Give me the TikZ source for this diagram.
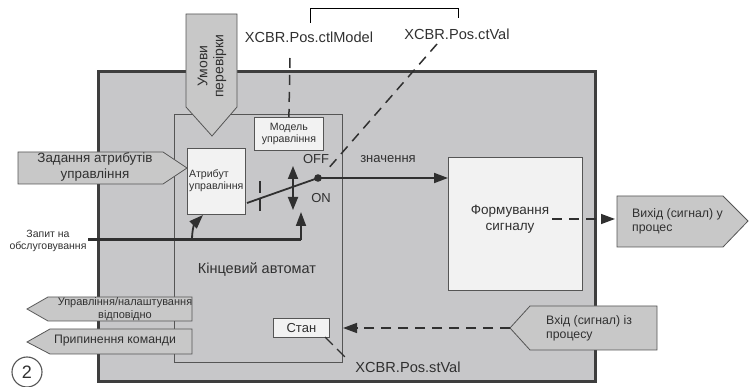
\documentclass[tikz,border=0pt]{standalone}
\usepackage{fontspec}
\setmainfont{Liberation Sans}
\usetikzlibrary{arrows.meta}
\definecolor{panel}{RGB}{199,199,201}
\definecolor{frame}{RGB}{62,62,62}
\definecolor{paper}{RGB}{242,242,242}
\definecolor{tag}{RGB}{200,200,200}
\definecolor{ink}{RGB}{48,48,48}
\definecolor{thin}{RGB}{85,85,85}
\newcommand{\fs}[1]{\fontsize{#1pt}{1.15\dimexpr#1pt\relax}\selectfont}
\tikzset{
  tagshape/.style={fill=tag, draw=thin, line width=0.8pt},
  whitebox/.style={fill=paper, draw=thin, line width=0.8pt, inner sep=0pt},
  txt/.style={text=ink, inner sep=0pt, align=center},
  link/.style={draw=ink, line width=1.8pt},
  dlink/.style={draw=ink, line width=1.5pt, dash pattern=on 10pt off 7pt},
  tip/.style={-{Triangle[length=14pt,width=10pt]}},
  bothtips/.style={{Triangle[length=13pt,width=10pt]}-{Triangle[length=13pt,width=10pt]}},
}
\begin{document}
\begin{tikzpicture}[x=1pt,y=-1pt]
\useasboundingbox (0,0) rectangle (750,387);

% outer function block
\draw[fill=panel, draw=frame, line width=3pt] (98,72) rectangle (595,382);
% finite state machine frame
\draw[draw=thin, line width=0.9pt] (174,114) rectangle (342,362);

% inner boxes
\node[whitebox, anchor=north west, minimum width=58pt, minimum height=66pt] (attr) at (187,148) {};
\node[whitebox, anchor=north west, minimum width=69pt, minimum height=33pt] (model) at (254,117) {};
\node[whitebox, anchor=north west, minimum width=56pt, minimum height=19pt] (state) at (273,318) {};
\node[whitebox, anchor=north west, minimum width=134pt, minimum height=133pt] (form) at (448,157) {};

% pentagon tags
\draw[tagshape] (186,14) -- (237,14) -- (237,107) -- (212,136) -- (186,107) -- cycle;
\coordinate (condTip) at (212,136);
\draw[tagshape] (18,152) -- (163,152) -- (187,168) -- (163,184) -- (18,184) -- cycle;
\coordinate (setTip) at (187,168);
\draw[tagshape] (192,297) -- (48,297) -- (27,309) -- (48,321) -- (192,321) -- cycle;
\draw[tagshape] (192,329) -- (50,329) -- (27,342) -- (50,354) -- (192,354) -- cycle;
\draw[tagshape] (657,306) -- (530,306) -- (510,328) -- (530,350) -- (657,350) -- cycle;
\coordinate (inTip) at (510,328);
\draw[tagshape] (617,196) -- (723,196) -- (748,221) -- (723,247) -- (617,247) -- cycle;
\coordinate (outBase) at (615,219);

% switch
\coordinate (pivot) at (318,178);
\coordinate (leverEnd) at (247,203);
\draw[link] (leverEnd) -- (pivot);
\fill[ink] (pivot) circle (3.8pt);
\draw[ink, line width=1.6pt, dash pattern=on 12pt off 6pt] (260,181) -- (260,211);
\coordinate (swUp) at (293,166);
\coordinate (swDown) at (293,210);
\draw[link, bothtips] (swUp) -- (swDown);

% service request line
\coordinate (reqStart) at (88,240);
\coordinate (reqEnd) at (301,240);
\coordinate (reqBranch) at (192,240);
\draw[draw=ink, line width=3pt] (reqStart) -- (reqEnd);
\draw[link, tip] (reqEnd) -- (301,212);
\draw[link, tip] (reqBranch) .. controls (192,228) and (195,223) .. (203,215);

% value line
\draw[link, tip] (pivot) -- (form.west |- pivot);

% dashed signals
\coordinate (ctlModelEnd) at (290,58);
\draw[dlink] (ctlModelEnd) -- (model.north);
\coordinate (ctValEnd) at (437,44);
\coordinate (ctValLow) at (327,170);
\draw[dlink] (ctValEnd) -- (ctValLow);
\draw[dlink, tip] (552,219) -- (outBase);
\draw[dlink, tip] (inTip) -- (343,328);
\coordinate (stValEnd) at (347,359);
\draw[ink, line width=1.4pt, dash pattern=on 11pt off 6pt] (325,337) -- (stValEnd);

% bracket over the data object names
\draw[thin, line width=0.9pt] (310,23) -- (310,8) -- (458,8) -- (458,18);

% circled number
\node[draw=thin, line width=1.1pt, circle, minimum size=30pt, inner sep=0pt, text=ink, font=\fs{18}] (num) at (27,372) {2};

% labels
\node[txt, rotate=90, font=\fs{14}] (condText) at (212,66) {Умови\\перевірки};
\node[txt, font=\fs{13.4}] (setText) at (95,167) {Задання атрибутів\\управління};
\node[txt, align=left, anchor=west, font=\fs{10.6}] (attrText) at (189,181) {Атрибут\\управління};
\node[txt, font=\fs{10.6}] (modelText) at (model.center) {Модель\\управління};
\node[txt, font=\fs{13}] (stateText) at (state.center) {Стан};
\node[txt, font=\fs{13.5}] (formText) at (510,219) {Формування\\сигналу};
\node[txt, font=\fs{10.5}] (reqText) at (48,241) {Запит на\\обслуговування};
\node[txt, font=\fs{14.5}] (fsmText) at (257,270) {Кінцевий автомат};
\node[txt, font=\fs{13}] (offText) at (316,159) {OFF};
\node[txt, font=\fs{13}] (onText) at (321,198) {ON};
\node[txt, font=\fs{13}] (valText) at (388,159) {значення};
\node[txt, font=\fs{14.6}] (ctlModelText) at (309,37) {XCBR.Pos.ctlModel};
\node[txt, font=\fs{14.6}] (ctValText) at (457,34) {XCBR.Pos.ctVal};
\node[txt, font=\fs{14.6}] (stValText) at (408,367) {XCBR.Pos.stVal};
\node[txt, font=\fs{11}] (ackText) at (125,309) {Управління/налаштування\\відповідно};
\node[txt, font=\fs{12.3}] (stopText) at (115,341) {Припинення команди};
\node[txt, align=left, anchor=west, font=\fs{12.3}] (inText) at (546,328) {Вхід (сигнал) із\\процесу};
\node[txt, align=left, anchor=west, font=\fs{12.3}] (outText) at (632,221) {Вихід (сигнал) у\\процес};
\end{tikzpicture}
\end{document}
